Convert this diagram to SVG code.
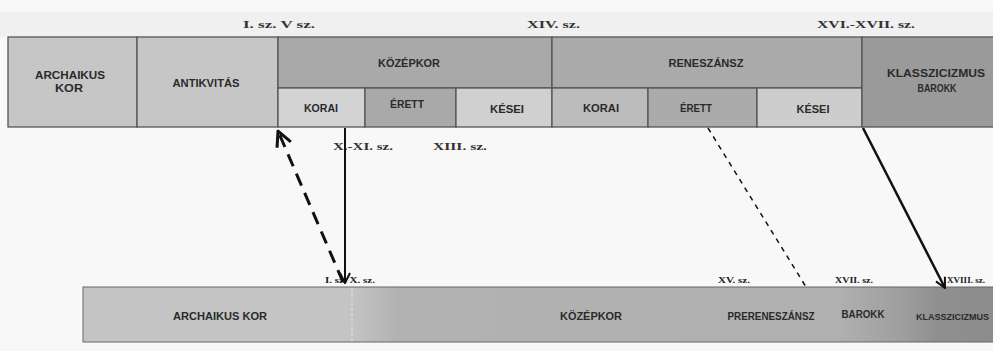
<svg xmlns="http://www.w3.org/2000/svg" width="993" height="351" viewBox="0 0 993 351">
<style>
.cell{stroke:#555;stroke-width:1.3}
.t{font-family:"Liberation Sans",Arial,sans-serif;font-weight:bold;font-size:11px;fill:#2a2a2a;text-anchor:middle}
.s{font-family:"Liberation Serif","Times New Roman",serif;font-weight:bold;font-size:11px;fill:#333}
.ss{font-family:"Liberation Serif","Times New Roman",serif;font-weight:bold;font-size:8.5px;fill:#222}
</style>
<defs>
<linearGradient id="band" x1="83" y1="0" x2="993" y2="0" gradientUnits="userSpaceOnUse">
<stop offset="0" stop-color="#c4c4c4"/>
<stop offset="0.295" stop-color="#c4c4c4"/>
<stop offset="0.345" stop-color="#b2b2b2"/>
<stop offset="0.83" stop-color="#b0b0b0"/>
<stop offset="0.9" stop-color="#9e9e9e"/>
<stop offset="0.94" stop-color="#8f8f8f"/>
<stop offset="1" stop-color="#8c8c8c"/>
</linearGradient>
<marker id="open" viewBox="0 0 12 12" refX="11" refY="6" markerWidth="12" markerHeight="12" markerUnits="userSpaceOnUse" orient="auto">
<path d="M1,1 L11,6 L1,11" fill="none" stroke="#111" stroke-width="2"/>
</marker>
<marker id="openBig" viewBox="0 0 12 12" refX="11" refY="6" markerWidth="18" markerHeight="18" markerUnits="userSpaceOnUse" orient="auto">
<path d="M1,1 L11,6 L1,11" fill="none" stroke="#111" stroke-width="2"/>
</marker>
</defs>
<rect width="993" height="351" fill="#f8f8f8"/>
<rect x="0" y="12" width="993" height="25" fill="#f0f0f0"/>

<g id="top-labels">
<text class="s" x="243" y="28" textLength="72" lengthAdjust="spacingAndGlyphs">I. sz. V sz.</text>
<text class="s" x="527" y="28" textLength="53" lengthAdjust="spacingAndGlyphs">XIV. sz.</text>
<text class="s" x="817" y="28" textLength="98" lengthAdjust="spacingAndGlyphs">XVI.-XVII. sz.</text>
</g>

<g id="archaikus">
<rect class="cell" x="8" y="37" width="129" height="90" fill="#c6c6c6"/>
<text class="t" x="70" y="79" textLength="70" lengthAdjust="spacingAndGlyphs">ARCHAIKUS</text>
<text class="t" x="69" y="92" textLength="28" lengthAdjust="spacingAndGlyphs">KOR</text>
</g>
<g id="antikvitas">
<rect class="cell" x="137" y="37" width="141" height="90" fill="#c6c6c6"/>
<text class="t" x="206" y="87" textLength="67" lengthAdjust="spacingAndGlyphs">ANTIKVITÁS</text>
</g>
<g id="kozepkor">
<rect class="cell" x="278" y="37" width="274" height="51" fill="#a9a9a9"/>
<text class="t" x="409" y="67" textLength="62" lengthAdjust="spacingAndGlyphs">KÖZÉPKOR</text>
</g>
<g id="kozepkor-korai">
<rect class="cell" x="278" y="88" width="87" height="39" fill="#d3d3d3"/>
<text class="t" x="321" y="112" textLength="34" lengthAdjust="spacingAndGlyphs">KORAI</text>
</g>
<g id="kozepkor-erett">
<rect class="cell" x="365" y="88" width="91" height="39" fill="#a9a9a9"/>
<text class="t" x="407" y="108" textLength="34" lengthAdjust="spacingAndGlyphs">ÉRETT</text>
</g>
<g id="kozepkor-kesei">
<rect class="cell" x="456" y="88" width="96" height="39" fill="#d0d0d0"/>
<text class="t" x="507" y="113" textLength="34" lengthAdjust="spacingAndGlyphs">KÉSEI</text>
</g>
<g id="reneszansz">
<rect class="cell" x="552" y="37" width="310" height="51" fill="#aaaaaa"/>
<text class="t" x="706" y="67" textLength="75" lengthAdjust="spacingAndGlyphs">RENESZÁNSZ</text>
</g>
<g id="reneszansz-korai">
<rect class="cell" x="552" y="88" width="96" height="39" fill="#bcbcbc"/>
<text class="t" x="601" y="112" textLength="36" lengthAdjust="spacingAndGlyphs">KORAI</text>
</g>
<g id="reneszansz-erett">
<rect class="cell" x="648" y="88" width="109" height="39" fill="#ababab"/>
<text class="t" x="696" y="112" textLength="32" lengthAdjust="spacingAndGlyphs">ÉRETT</text>
</g>
<g id="reneszansz-kesei">
<rect class="cell" x="757" y="88" width="105" height="39" fill="#cdcdcd"/>
<text class="t" x="813" y="113" textLength="33" lengthAdjust="spacingAndGlyphs">KÉSEI</text>
</g>
<g id="klasszicizmus">
<rect class="cell" x="862" y="37" width="135" height="90" fill="#9a9a9a"/>
<text class="t" x="936" y="77" textLength="98" lengthAdjust="spacingAndGlyphs">KLASSZICIZMUS</text>
<text class="t" x="937" y="92" textLength="39" lengthAdjust="spacingAndGlyphs">BAROKK</text>
</g>

<g id="mid-labels">
<text class="s" x="333" y="150" textLength="60" lengthAdjust="spacingAndGlyphs">X.-XI. sz.</text>
<text class="s" x="433" y="150" textLength="54" lengthAdjust="spacingAndGlyphs">XIII. sz.</text>
</g>

<g id="timeline">
<rect x="83" y="287" width="915" height="55" fill="url(#band)" stroke="#666" stroke-width="1"/>
<line x1="352" y1="288" x2="352" y2="341" stroke="#d8d8d8" stroke-width="1.5" stroke-dasharray="3 2"/>
<text class="t" x="220" y="320" textLength="94" lengthAdjust="spacingAndGlyphs">ARCHAIKUS KOR</text>
<text class="t" x="591" y="320" textLength="62" lengthAdjust="spacingAndGlyphs">KÖZÉPKOR</text>
<text class="t" x="771" y="320" textLength="87" lengthAdjust="spacingAndGlyphs">PRERENESZÁNSZ</text>
<text class="t" x="863" y="318" textLength="43" lengthAdjust="spacingAndGlyphs">BAROKK</text>
<text class="t" x="916" y="320" style="text-anchor:start;font-size:9px">KLASSZICIZMUS</text>
<text class="ss" x="325" y="283" textLength="50" lengthAdjust="spacingAndGlyphs">I. sz. X. sz.</text>
<text class="ss" x="718" y="283" textLength="32" lengthAdjust="spacingAndGlyphs">XV. sz.</text>
<text class="ss" x="835" y="283" textLength="38" lengthAdjust="spacingAndGlyphs">XVII. sz.</text>
<text class="ss" x="947" y="283" textLength="38" lengthAdjust="spacingAndGlyphs">XVIII. sz.</text>
</g>

<g id="connectors" fill="none" stroke="#111">
<line x1="343" y1="282" x2="278" y2="131" stroke-width="3" stroke-dasharray="13 8" marker-end="url(#openBig)"/>
<line x1="345" y1="128" x2="345" y2="283" stroke-width="2" marker-end="url(#open)"/>
<line x1="708" y1="128" x2="806" y2="287" stroke-width="1.5" stroke-dasharray="5 5"/>
<line x1="863" y1="128" x2="945" y2="288" stroke-width="2.5" marker-end="url(#open)"/>
</g>
</svg>
